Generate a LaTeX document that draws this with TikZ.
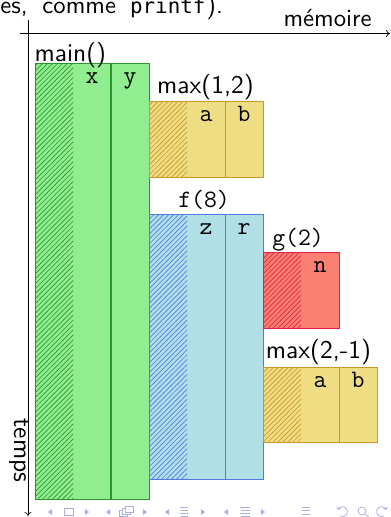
\documentclass[tikz,border=0pt]{standalone}
\usepackage{fontspec}
\newfontfamily\smono{DejaVu Sans Mono}
\usetikzlibrary{patterns.meta,arrows.meta}
\definecolor{gfill}{RGB}{144,238,144}
\definecolor{gdraw}{RGB}{40,150,40}
\definecolor{yfill}{RGB}{238,221,130}
\definecolor{ydraw}{RGB}{205,150,40}
\definecolor{bfill}{RGB}{176,224,230}
\definecolor{bdraw}{RGB}{80,120,230}
\definecolor{rfill}{RGB}{250,128,114}
\definecolor{rdraw}{RGB}{225,30,70}
\definecolor{navc}{RGB}{173,173,224}
\begin{document}
\begin{tikzpicture}[x=1pt,y=-1pt,
  frm/.style={rectangle,anchor=north west,inner sep=0pt,outer sep=0pt,line width=0.9pt},
  hatch/.style={pattern={Lines[angle=45,distance=3.5pt,line width=0.65pt]}},
  varlab/.style={anchor=base,inner sep=0pt,font=\fontsize{25}{30}\selectfont\ttfamily},
  ttitle/.style={anchor=base,inner sep=0pt,font=\fontsize{25}{30}\selectfont\ttfamily},
  stitle/.style={anchor=base,inner sep=0pt,font=\fontsize{10}{12}\selectfont\sffamily,scale=2.55},
  toptext/.style={anchor=base west,inner sep=0pt,font=\fontsize{10}{12}\selectfont\sffamily,scale=2.47},
  axis/.style={line width=0.6pt,-{To[length=4pt,width=7pt]}},
  nav/.style={navc,line width=0.8pt},
  navtri/.style={fill=navc}
]
\useasboundingbox (0,0) rectangle (391,517);

% top text (cut slide text)
\node[toptext] (top1) at (0,13.5) {es,};
\node[toptext] (top2) at (42,13.5) {comme};
\node[anchor=base west,inner sep=0pt,font=\fontsize{20.8}{24}\selectfont\smono] (top3) at (130,13.5) {printf};
\node[toptext] (top4) at (206,13.5) {).};

% axes
\coordinate (hx0) at (20,33.5);
\coordinate (hx1) at (390,33.5);
\coordinate (vy0) at (28,20);
\coordinate (vy1) at (28,516);
\draw[axis] (hx0) -- (hx1);
\draw[axis] (vy0) -- (vy1);
\node[stitle,anchor=base east,scale=0.97] (mem) at (372,26.5) {mémoire};
\node[stitle,rotate=-90] (temps) at (14,450.5) {temps};

% main()
\node[frm,fill=gfill,draw=gdraw,minimum width=114pt,minimum height=436pt] (main) at (35,63) {};
\fill[hatch,pattern color=gdraw] (main.north west) rectangle ([xshift=38pt]main.south west);
\draw[gdraw,line width=1.2pt] ([xshift=76pt]main.north west) -- ([xshift=76pt]main.south west);
\draw[gdraw,line width=0.9pt] (main.north west) rectangle (main.south east);
\node[varlab] (mx) at ([xshift=57pt,yshift=-20pt]main.north west) {x};
\node[varlab] (my) at ([xshift=95pt,yshift=-20pt]main.north west) {y};
\node[stitle,anchor=base west] (tmain) at (34,61) {main()};

% max(1,2)
\node[frm,fill=yfill,draw=ydraw,minimum width=114pt,minimum height=76pt] (maxa) at (149,101) {};
\fill[hatch,pattern color=ydraw] (maxa.north west) rectangle ([xshift=38pt]maxa.south west);
\draw[ydraw,line width=0.9pt] ([xshift=76pt]maxa.north west) -- ([xshift=76pt]maxa.south west);
\draw[ydraw,line width=0.9pt] (maxa.north west) rectangle (maxa.south east);
\node[varlab] (maa) at ([xshift=57pt,yshift=-20pt]maxa.north west) {a};
\node[varlab] (mab) at ([xshift=95pt,yshift=-20pt]maxa.north west) {b};
\node[stitle] (tmaxa) at (205.5,93) {max(1,2)};

% f(8)
\node[frm,fill=bfill,draw=bdraw,minimum width=114pt,minimum height=265pt] (f) at (149,214) {};
\fill[hatch,pattern color=bdraw] (f.north west) rectangle ([xshift=38pt]f.south west);
\draw[bdraw,line width=0.9pt] ([xshift=76pt]f.north west) -- ([xshift=76pt]f.south west);
\draw[bdraw,line width=0.9pt] (f.north west) rectangle (f.south east);
\node[varlab] (fz) at ([xshift=57pt,yshift=-20pt]f.north west) {z};
\node[varlab] (fr) at ([xshift=95pt,yshift=-20pt]f.north west) {r};
\node[ttitle] (tf) at (204,207) {f(8)};

% g(2)
\node[frm,fill=rfill,draw=rdraw,minimum width=76pt,minimum height=76pt] (g) at (263,252) {};
\fill[hatch,pattern color=rdraw] (g.north west) rectangle ([xshift=38pt]g.south west);
\draw[rdraw,line width=0.9pt] (g.north west) rectangle (g.south east);
\node[varlab] (gn) at ([xshift=57pt,yshift=-20pt]g.north west) {n};
\node[ttitle] (tg) at (298,245) {g(2)};

% max(2,-1)
\node[frm,fill=yfill,draw=ydraw,minimum width=114pt,minimum height=75pt] (maxb) at (263,367) {};
\fill[hatch,pattern color=ydraw] (maxb.north west) rectangle ([xshift=38pt]maxb.south west);
\draw[ydraw,line width=0.9pt] ([xshift=76pt]maxb.north west) -- ([xshift=76pt]maxb.south west);
\draw[ydraw,line width=0.9pt] (maxb.north west) rectangle (maxb.south east);
\node[varlab] (mba) at ([xshift=57pt,yshift=-20pt]maxb.north west) {a};
\node[varlab] (mbb) at ([xshift=95pt,yshift=-20pt]maxb.north west) {b};
\node[stitle] (tmaxb) at (318.5,358) {max(2,-1)};

% navigation symbols
\fill[navtri] (52,509) -- (48,512) -- (52,515) -- cycle;
\draw[nav] (64,508) rectangle (73,515);
\fill[navtri] (85,509) -- (89,512) -- (85,515) -- cycle;
\fill[navtri] (110,509) -- (106,512) -- (110,515) -- cycle;
\draw[nav,fill=white] (119,510) rectangle (127,516);
\draw[nav,fill=white] (122,508) rectangle (130,514);
\draw[nav,fill=white] (125,506) rectangle (133,512);
\fill[navtri] (143,509) -- (147,512) -- (143,515) -- cycle;
\fill[navtri] (169,509) -- (165,512) -- (169,515) -- cycle;
\draw[nav] (180,507) -- (188,507) (181,510) -- (188,510) (180,513) -- (188,513) (181,516) -- (188,516);
\fill[navtri] (201,509) -- (205,512) -- (201,515) -- cycle;
\fill[navtri] (228,509) -- (224,512) -- (228,515) -- cycle;
\draw[nav] (240,507) -- (250,507) (241,510) -- (250,510) (240,513) -- (250,513) (241,516) -- (250,516);
\fill[navtri] (261,509) -- (265,512) -- (261,515) -- cycle;
\draw[nav] (302,507) -- (310,507) (302,510.5) -- (310,510.5) (302,514) -- (310,514);
\draw[nav,-{Straight Barb[length=2pt]}] (340,516) arc[start angle=-120,end angle=160,radius=5pt];
\draw[nav] (362,511) circle[radius=4pt] (365,514) -- (369,517);
\draw[nav,-{Straight Barb[length=2pt]}] (384,516) arc[start angle=-60,end angle=-340,radius=5pt];
\end{tikzpicture}
\end{document}
